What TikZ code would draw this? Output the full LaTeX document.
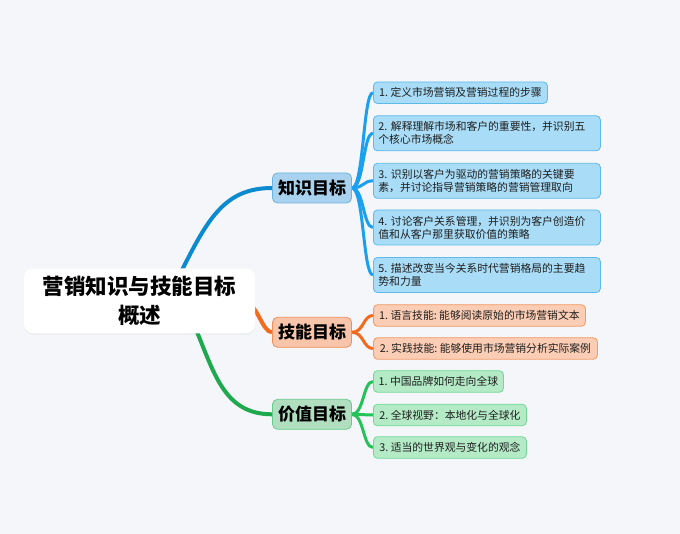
\documentclass[tikz,border=0pt]{standalone}
\usepackage{fontspec}
\setmainfont{Noto Sans CJK SC}
\usetikzlibrary{shadows}
\definecolor{bgc}{HTML}{F5F6F9}
\definecolor{kroot}{HTML}{0B8AD0}
\definecolor{kline}{HTML}{1AA0EE}
\definecolor{kbf}{HTML}{A8D2EE}
\definecolor{kbd}{HTML}{6DB3E0}
\definecolor{klf}{HTML}{A9DCF6}
\definecolor{kld}{HTML}{5FBAEC}
\definecolor{sline}{HTML}{F26A1E}
\definecolor{sbf}{HTML}{F8C5AA}
\definecolor{sbd}{HTML}{EF8F5C}
\definecolor{slf}{HTML}{FBCDB4}
\definecolor{sld}{HTML}{F29A68}
\definecolor{vroot}{HTML}{1EA94F}
\definecolor{vline}{HTML}{25C25A}
\definecolor{vbf}{HTML}{B0DFC0}
\definecolor{vbd}{HTML}{6BC98E}
\definecolor{vlf}{HTML}{B4EBC6}
\definecolor{vld}{HTML}{70D895}
\definecolor{txt}{HTML}{1E1E1E}
\pgfdeclarelayer{bg}
\pgfdeclarelayer{lines}
\pgfsetlayers{bg,lines,main}
\frenchspacing
\begin{document}
\begin{tikzpicture}[x=1pt,y=-1pt,
  every node/.style={text=txt},
  leaf/.style={rounded corners=4pt, line width=0.8pt, anchor=west, align=left,
    inner xsep=5pt, inner ysep=1pt, minimum height=21.5pt,
    font=\fontsize{10.8pt}{13pt}\selectfont\frenchspacing},
  leaftwo/.style={leaf, minimum height=35pt, text width=217pt},
  kleaf/.style={leaf, draw=kld, fill=klf},
  sleaf/.style={leaf, draw=sld, fill=slf},
  vleaf/.style={leaf, draw=vld, fill=vlf},
  branch/.style={rounded corners=5pt, line width=0.8pt, minimum width=79pt,
    minimum height=30pt, inner sep=0pt, font=\fontsize{17pt}{20pt}\selectfont\bfseries, text=black},
  rootbox/.style={fill=white, rounded corners=9pt, minimum width=231pt, minimum height=65pt,
    inner sep=0pt, align=center, font=\fontsize{21.5pt}{29pt}\selectfont\bfseries, text=black,
    drop shadow={opacity=0.07, shadow xshift=0pt, shadow yshift=-1.5pt}},
  trunk/.style={line width=4pt},
  twig/.style={line width=3pt},
]
\begin{pgfonlayer}{bg}
  \fill[bgc] (0,0) rectangle (680,534);
\end{pgfonlayer}
\useasboundingbox (0,0) rectangle (680,534);

% root
\node[rootbox] (root) at (139.5,300.8) {营销知识与技能目标\\概述};

% branches
\node[branch, draw=kbd, fill=kbf] (kb) at (312,188) {知识目标};
\node[branch, draw=sbd, fill=sbf] (sb) at (312,332.3) {技能目标};
\node[branch, draw=vbd, fill=vbf] (vb) at (312,414.3) {价值目标};

% knowledge leaves
\node[kleaf, minimum width=174pt] (k1) at (373,92.7) {1. 定义市场营销及营销过程的步骤};
\node[kleaf, leaftwo] (k2) at (373,133.3) {2. 解释理解市场和客户的重要性，并识别五\\个核心市场概念};
\node[kleaf, leaftwo] (k3) at (373,180.8) {3. 识别以客户为驱动的营销策略的关键要\\素，并讨论指导营销策略的营销管理取向};
\node[kleaf, leaftwo] (k4) at (373,227.5) {4. 讨论客户关系管理，并识别为客户创造价\\值和从客户那里获取价值的策略};
\node[kleaf, leaftwo] (k5) at (373,275) {5. 描述改变当今关系时代营销格局的主要趋\\势和力量};

% skill leaves
\node[sleaf, minimum width=212pt] (s1) at (373,315.5) {1. 语言技能: 能够阅读原始的市场营销文本};
\node[sleaf, minimum width=224pt] (s2) at (373,348.5) {2. 实践技能: 能够使用市场营销分析实际案例};

% value leaves
\node[vleaf, minimum width=130pt] (v1) at (373,381.5) {1. 中国品牌如何走向全球};
\node[vleaf, minimum width=153pt] (v2) at (373,415) {2. 全球视野：本地化与全球化};
\node[vleaf, minimum width=153pt] (v3) at (373,447.5) {3. 适当的世界观与变化的观念};

\begin{pgfonlayer}{lines}
  % root to branches
  \draw[trunk, kroot] ([xshift=41.5pt,yshift=-4pt]root.north) .. controls +(27,-54) and +(-47,0) .. (kb.west);
  \draw[trunk, sline] ([xshift=-10pt,yshift=-2pt]root.east) .. controls +(12,0) and +(-10,0) .. (sb.west);
  \draw[trunk, vroot] ([xshift=56.5pt,yshift=4pt]root.south) .. controls +(19,46) and +(-47,0) .. (vb.west);
  % branches to leaves
  \foreach \l in {k1,k2,k3,k4,k5}
    \draw[twig, kline] (kb.east) .. controls +(12,0) and +(-10,0) .. (\l.west);
  \foreach \l in {s1,s2}
    \draw[twig, sline] (sb.east) .. controls +(12,0) and +(-10,0) .. (\l.west);
  \foreach \l in {v1,v2,v3}
    \draw[twig, vline] (vb.east) .. controls +(12,0) and +(-10,0) .. (\l.west);
\end{pgfonlayer}
\end{tikzpicture}
\end{document}
